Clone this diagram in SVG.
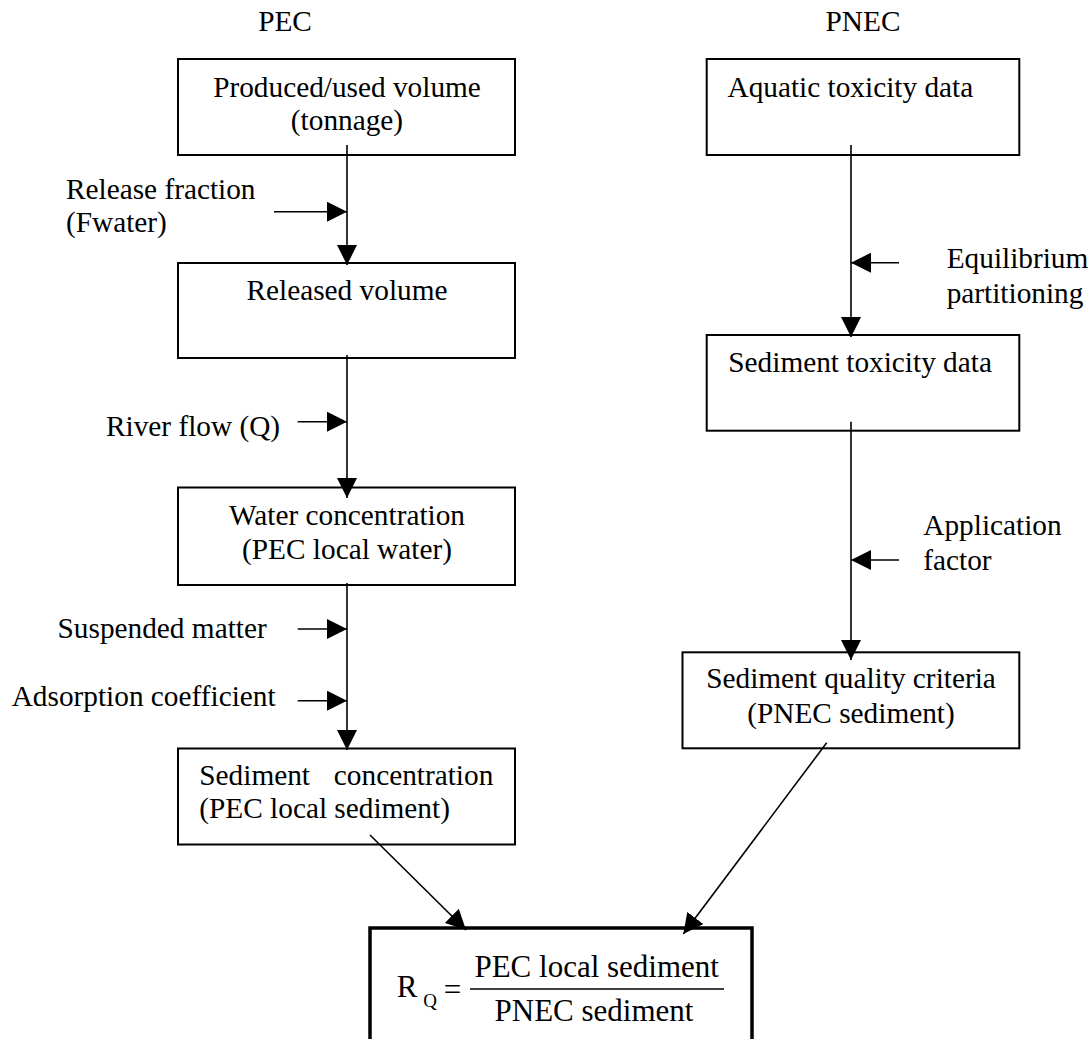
<svg xmlns="http://www.w3.org/2000/svg" width="1091" height="1039" viewBox="0 0 1091 1039">
<defs>
<style>
text{font-family:"Liberation Serif","Times New Roman",serif;font-size:29.3px;fill:#000}
.box{fill:#fff;stroke:#000;stroke-width:2}
.rq{fill:#fff;stroke:#000;stroke-width:3.5}
.c{text-anchor:middle}
.e{text-anchor:end}
.ln{stroke:#000;stroke-width:1.6;fill:none}
.ar{marker-end:url(#ah)}
.fx{font-size:31px}
.sub{font-size:19px}
</style>
<marker id="ah" markerUnits="userSpaceOnUse" markerWidth="20" markerHeight="20" refX="20" refY="10" orient="auto" viewBox="0 0 20 20">
<path d="M0,0 L20,10 L0,20 z" fill="#000"/>
</marker>
</defs>
<rect width="1091" height="1039" fill="#fff"/>

<g id="pec-label"><text class="c" x="285" y="31">PEC</text></g>
<g id="pnec-label"><text class="c" x="863" y="31">PNEC</text></g>

<g id="n-produced">
<rect class="box" x="178" y="59" width="337" height="96"/>
<text class="c" x="347" y="96.5">Produced/used volume</text>
<text class="c" x="347" y="130">(tonnage)</text>
</g>
<g id="n-released">
<rect class="box" x="178" y="263" width="337" height="95"/>
<text class="c" x="347" y="300">Released volume</text>
</g>
<g id="n-water">
<rect class="box" x="178" y="487.5" width="337" height="97.5"/>
<text class="c" x="347" y="524.5">Water concentration</text>
<text class="c" x="347" y="558.5">(PEC local water)</text>
</g>
<g id="n-sedconc">
<rect class="box" x="178" y="748.5" width="337" height="96"/>
<text x="199.3" y="785">Sediment</text>
<text class="e" x="493.3" y="785">concentration</text>
<text x="199.3" y="818.3">(PEC local sediment)</text>
</g>

<g id="n-aquatic">
<rect class="box" x="706.7" y="59" width="312.6" height="96"/>
<text x="727.5" y="96.5">Aquatic toxicity data</text>
</g>
<g id="n-sedtox">
<rect class="box" x="706.7" y="335" width="312.6" height="95.7"/>
<text x="728.3" y="371.7">Sediment toxicity data</text>
</g>
<g id="n-sqc">
<rect class="box" x="682.5" y="652.3" width="336.8" height="96"/>
<text class="c" x="851" y="688.3">Sediment quality criteria</text>
<text class="c" x="851" y="723.3">(PNEC sediment)</text>
</g>

<g id="n-rq">
<rect class="rq" x="370" y="928" width="382" height="130"/>
<text class="fx" x="396.7" y="996.7">R</text>
<text class="sub" x="423.3" y="1006.7">Q</text>
<text class="fx c" x="452.5" y="1000">=</text>
<line x1="470" y1="989" x2="724" y2="989" stroke="#000" stroke-width="1.4"/>
<text class="fx c" x="596.7" y="976.7">PEC local sediment</text>
<text class="fx c" x="594" y="1020.7">PNEC sediment</text>
</g>

<g id="input-labels">
<text x="66" y="199">Release fraction</text>
<text x="66" y="232.3">(Fwater)</text>
<text x="106" y="436">River flow (Q)</text>
<text class="e" x="266.7" y="638.3">Suspended matter</text>
<text x="11.7" y="706">Adsorption coefficient</text>
<text x="946.7" y="268.3">Equilibrium</text>
<text x="946.7" y="303.3">partitioning</text>
<text x="923.3" y="535">Application</text>
<text x="923.3" y="570">factor</text>
</g>

<g id="connectors">
<line class="ln ar" x1="347" y1="145" x2="347" y2="265"/>
<line class="ln ar" x1="347" y1="355" x2="347" y2="498"/>
<line class="ln ar" x1="347" y1="583" x2="347" y2="750"/>
<line class="ln ar" x1="274" y1="211.7" x2="347" y2="211.7"/>
<line class="ln ar" x1="297.7" y1="421.7" x2="347" y2="421.7"/>
<line class="ln ar" x1="297.7" y1="629" x2="347" y2="629"/>
<line class="ln ar" x1="297.7" y1="700.7" x2="347" y2="700.7"/>
<line class="ln ar" x1="851" y1="145" x2="851" y2="337"/>
<line class="ln ar" x1="851" y1="421.7" x2="851" y2="660"/>
<line class="ln ar" x1="899" y1="262.7" x2="851" y2="262.7"/>
<line class="ln ar" x1="899" y1="560" x2="851" y2="560"/>
<line class="ln ar" x1="370" y1="835" x2="466" y2="930"/>
<line class="ln ar" x1="826.7" y1="742.7" x2="683.3" y2="934"/>
</g>
</svg>
